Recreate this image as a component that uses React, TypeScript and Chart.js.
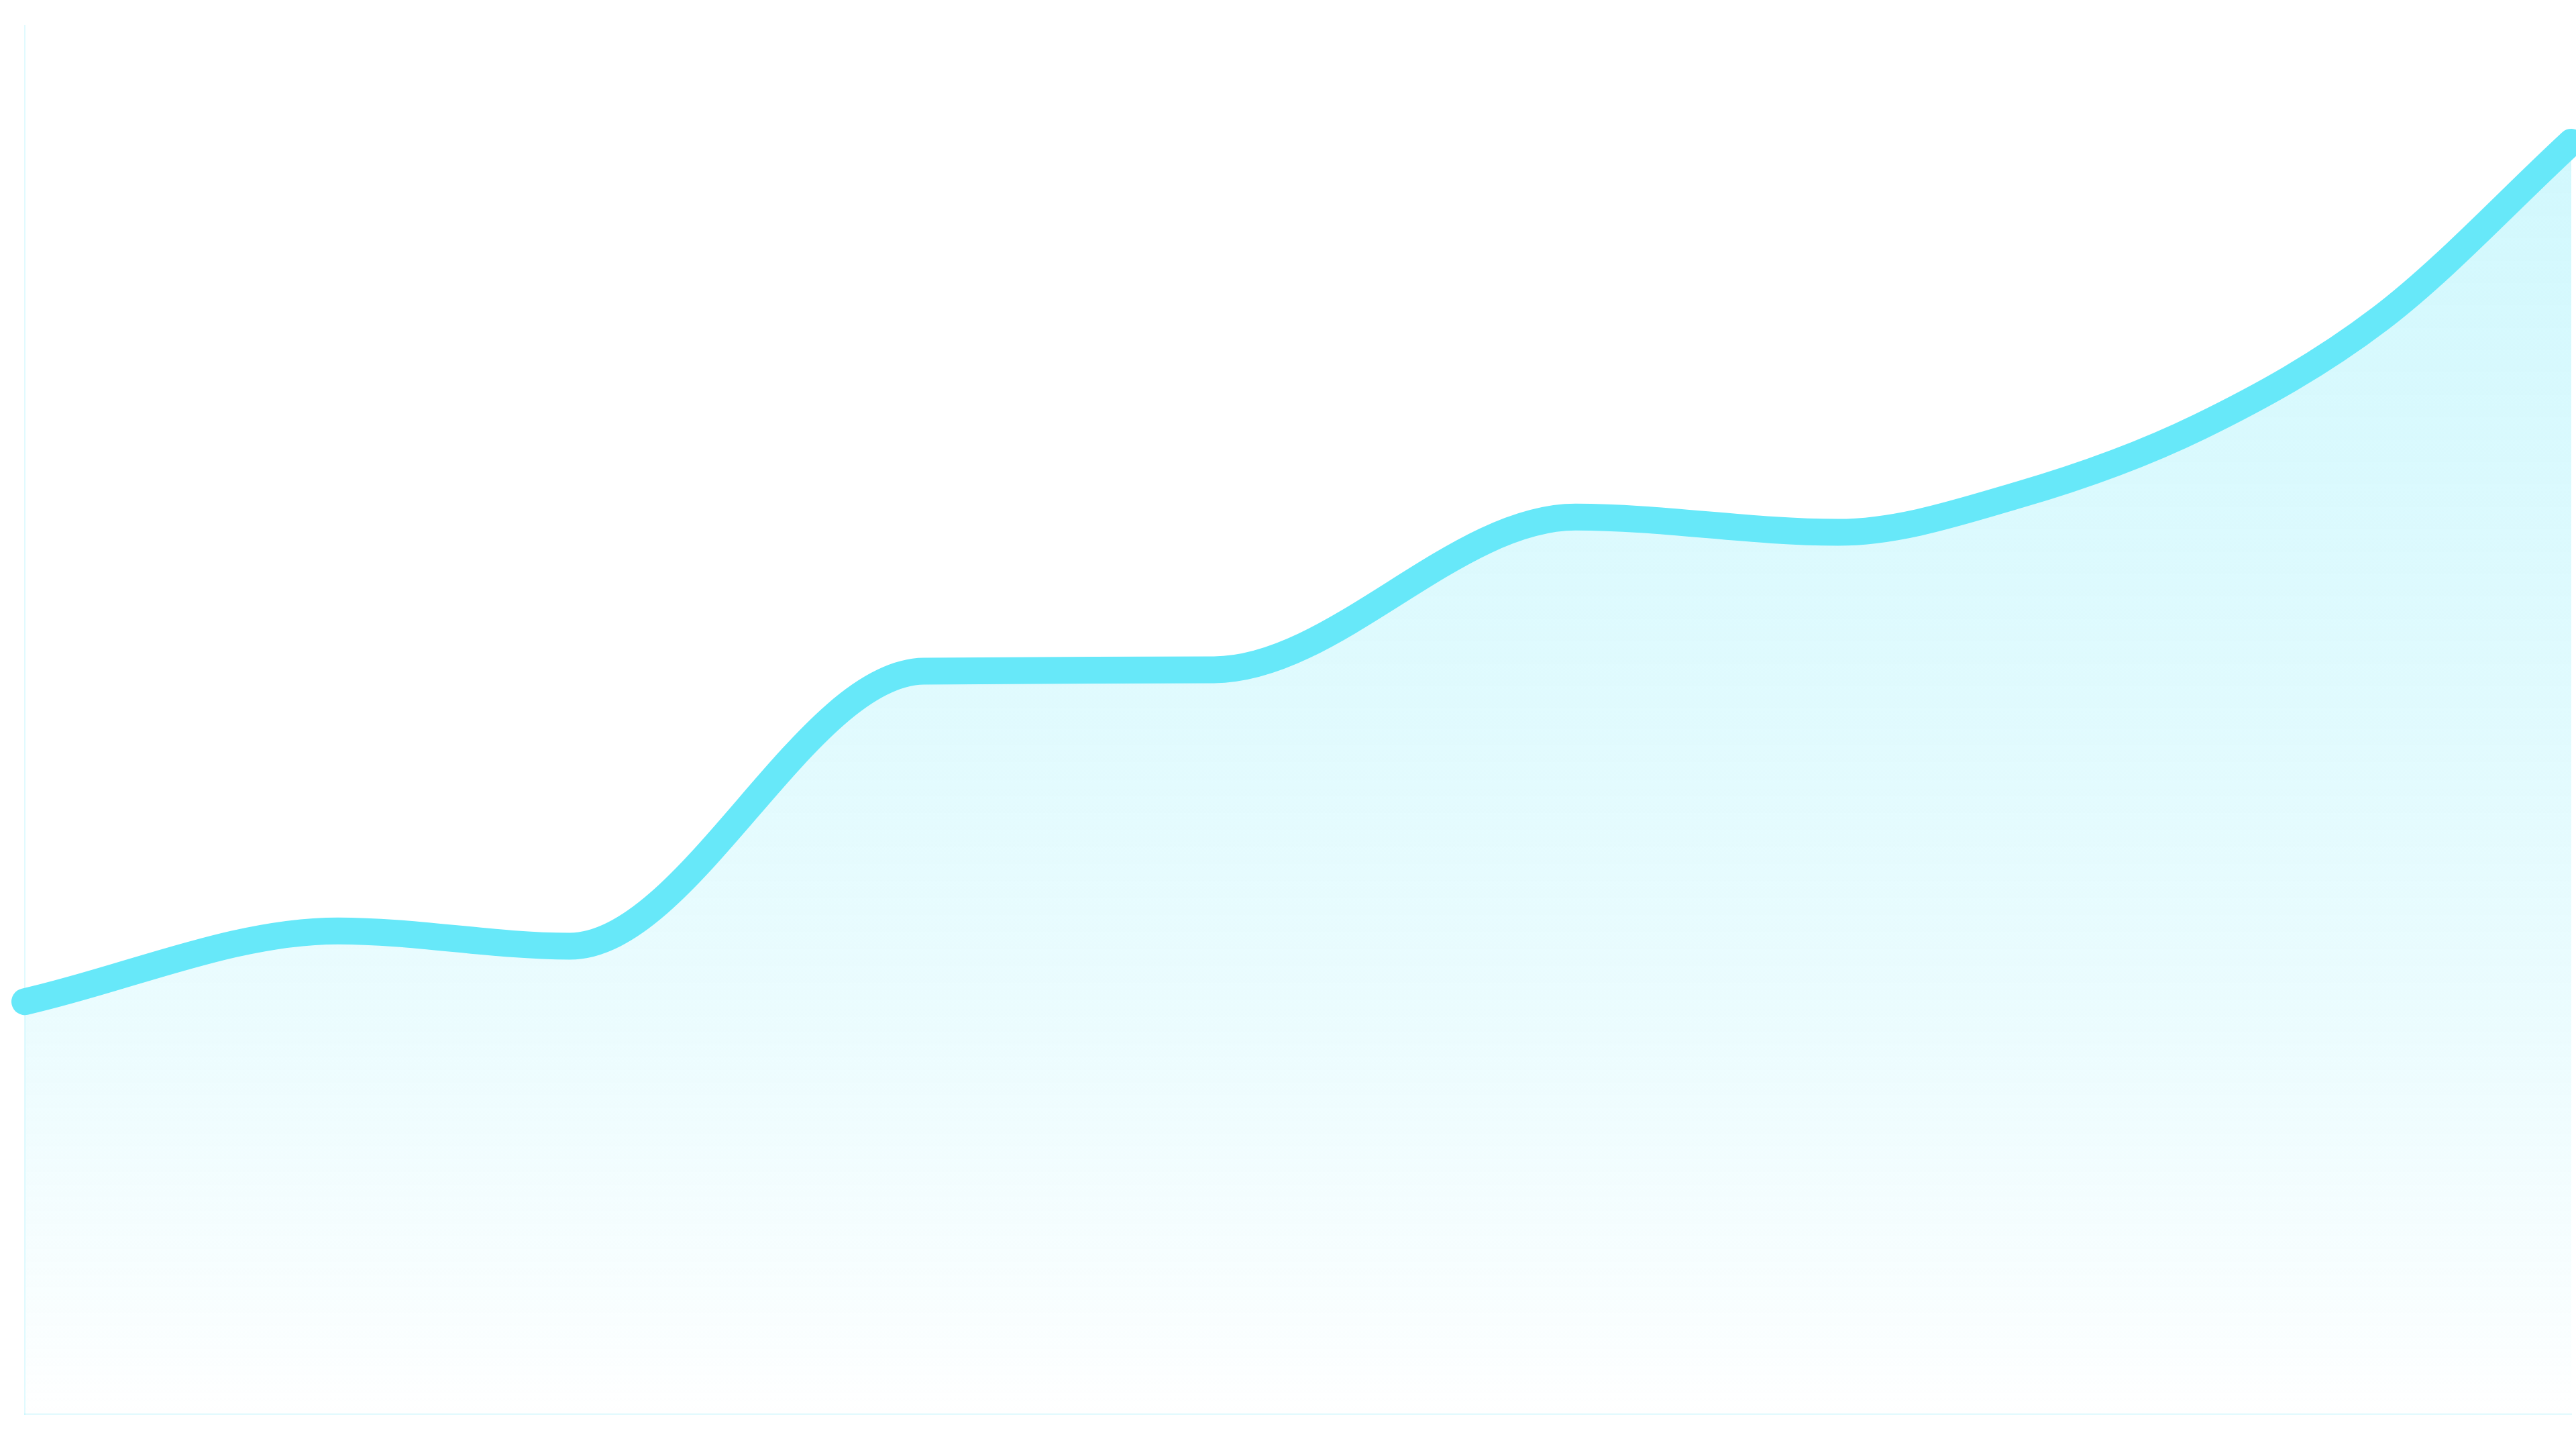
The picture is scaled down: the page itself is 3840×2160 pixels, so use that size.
import React, { useEffect, useRef } from "react";
import { Chart, registerables } from "chart.js";

Chart.register(...registerables);

// x positions (share of the time span, 0–100) and values of each point
const xValues = [0, 12.3, 21.4, 35.3, 46.7, 60.9, 71.2, 78.3, 85.4, 92.5, 100];
const yValues = [29.7, 34.8, 33.7, 53.5, 53.6, 64.6, 63.5, 66.2, 71.1, 78.9, 91.6];

const LINE_COLOR = "#67e8f9";
const FRAME_COLOR = "rgba(103,232,249,0.2)";

export default function App() {
  const canvasRef = useRef<HTMLCanvasElement | null>(null);

  useEffect(() => {
    const canvas = canvasRef.current;
    if (!canvas) return;
    const data = xValues.map((x, i) => ({ x, y: yValues[i] }));
    const chart = new Chart(canvas, {
      type: "line",
      data: {
        datasets: [
          {
            data,
            borderColor: LINE_COLOR,
            borderWidth: 40,
            borderCapStyle: "round",
            borderJoinStyle: "round",
            cubicInterpolationMode: "monotone",
            pointRadius: 0,
            pointHoverRadius: 0,
            clip: false,
            fill: "origin",
            backgroundColor: (ctx: any) => {
              const area = ctx.chart.chartArea;
              if (!area) return "rgba(103,232,249,0.2)";
              const g = ctx.chart.ctx.createLinearGradient(0, area.top, 0, area.bottom);
              g.addColorStop(0, "rgba(103,232,249,0.32)");
              g.addColorStop(0.5, "rgba(103,232,249,0.2)");
              g.addColorStop(0.72, "rgba(103,232,249,0.13)");
              g.addColorStop(0.95, "rgba(103,232,249,0.03)");
              g.addColorStop(1, "rgba(103,232,249,0)");
              return g;
            },
          },
        ],
      },
      options: {
        animation: false,
        responsive: true,
        maintainAspectRatio: false,
        layout: { padding: { left: 37, right: 7, top: 38, bottom: 52 } },
        plugins: { legend: { display: false }, tooltip: { enabled: false } },
        scales: {
          x: {
            type: "linear",
            min: 0,
            max: 100,
            ticks: { display: false },
            grid: { display: false, drawTicks: false },
            border: { display: true, color: FRAME_COLOR, width: 2 },
          },
          y: {
            min: 0,
            max: 100,
            ticks: { display: false },
            grid: { display: false, drawTicks: false },
            border: { display: true, color: FRAME_COLOR, width: 2 },
          },
        },
      },
    });
    return () => chart.destroy();
  }, []);

  return (
    <div style={{ position: "fixed", left: 0, top: 0, width: 3840, height: 2160, background: "#fff" }}>
      <canvas ref={canvasRef} />
    </div>
  );
}
